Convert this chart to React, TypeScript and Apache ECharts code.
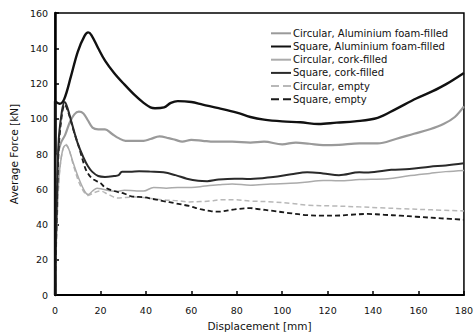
import React, { useEffect, useRef } from "react";
import * as echarts from "echarts";

// Displacement [mm] vs average crushing force [kN] for each tube configuration
const circularFoam: [number, number][] = [
  [0, 0], [1, 78], [2.5, 86], [4.5, 91], [6.5, 98], [8.5, 102.5], [10.5, 104], [12.5, 103],
  [14.5, 99], [16.5, 95], [19, 94], [22, 94], [25, 91.5], [28, 89], [31, 87.5], [35, 87.5],
  [39, 87.5], [42, 88.5], [46, 90], [50, 89], [53, 88], [56, 87], [60, 88], [65, 87.5],
  [70, 87], [78, 87], [86, 86.5], [92, 87], [100, 85.5], [106, 86.5], [112, 85.8], [118, 85],
  [125, 85.2], [134, 86], [142, 86], [150, 88.5], [158, 91.5], [165, 94], [171, 97],
  [176, 101], [180, 107],
];

const squareFoam: [number, number][] = [
  [0, 0], [0, 110], [2, 108.5], [4, 111], [7, 124], [10, 138], [13, 147], [14.6, 149],
  [16, 147.5], [19, 140], [22, 133], [26, 126], [30.5, 119.5], [35, 113.5], [39, 109],
  [42, 106.5], [44, 106], [48, 106.5], [51, 109], [54, 110], [60, 109.5], [65, 108],
  [72, 106], [80, 103.5], [86, 101], [92, 99.5], [100, 98.5], [108, 98], [116, 97],
  [124, 97.8], [132, 98.5], [142, 100.5], [150, 105.5], [159, 111.5], [166, 115.5],
  [172, 119.5], [180, 126],
];

const circularCork: [number, number][] = [
  [0, 0], [1.5, 62], [3, 80], [4.7, 85], [6, 83], [8, 75], [10.5, 66], [13, 59], [14.6, 57],
  [16.5, 59], [18.5, 60.6], [21, 60], [25, 59], [27.5, 58.8], [30.5, 59.5], [36, 59],
  [39, 59], [43.4, 61], [49, 60.6], [54, 61], [60, 61], [66, 61.8], [72, 62.5], [78, 63],
  [86, 62.3], [95, 63], [103.5, 63.4], [110, 64], [118, 65], [125, 64.8], [134, 65.5],
  [146.5, 66], [155, 67.5], [165, 69], [172, 70], [180, 70.7],
];

const squareCork: [number, number][] = [
  [0, 0], [1.5, 85], [3, 104], [4.3, 109.5], [5.5, 106], [7.7, 96], [10, 86], [12.5, 78],
  [14.5, 73], [16.3, 70], [19, 67.5], [22, 67], [26, 67.5], [28, 68], [29.5, 70], [33, 70],
  [37, 70.2], [42, 70], [47.7, 69.6], [53, 68], [58, 66], [63, 64.8], [67, 64.6],
  [72, 65.5], [79, 66], [86, 65.8], [96, 67], [104, 68.5], [111, 69.6], [118, 69],
  [125, 68], [134, 69.6], [138, 69.5], [148, 71], [156, 71.5], [165, 72.8], [172, 73.5],
  [180, 74.7],
];

const circularEmpty: [number, number][] = [
  [0, 0], [1.5, 60], [3, 80], [4.7, 85.5], [6, 83], [8, 74], [10.5, 64], [13, 58],
  [14.6, 56.5], [17, 58], [20, 59], [23.5, 57], [27.5, 55], [31, 55.3], [36, 55.6],
  [42, 54.8], [47.7, 54], [54, 53.5], [59, 52.8], [64, 53], [68, 53.3], [73.5, 54],
  [79, 54], [86, 53.3], [96, 52.8], [104, 52], [111, 51], [123, 50.5], [134, 50],
  [143, 49.5], [152, 49], [166, 48.3], [180, 47.7],
];

const squareEmpty: [number, number][] = [
  [0, 0], [1.5, 80], [3, 102], [4.3, 108], [6, 103], [8, 94], [10.5, 84], [13.3, 72],
  [15, 68], [17, 65.5], [20, 63.5], [22, 61], [26, 59], [30.5, 57.5], [33.5, 56],
  [39, 55.5], [43, 54.5], [47.7, 53.3], [53, 52], [59, 50.5], [64, 48.7], [69, 47.5],
  [72, 47.3], [79, 48.6], [86, 49.3], [89, 48.8], [96, 47.7], [103, 46.5], [111, 45.3],
  [118, 45], [123, 45], [130, 45.5], [137.5, 46], [145, 45.5], [152, 45], [159, 44.4],
  [170, 43.5], [180, 42.7],
];

const seriesNames = [
  "Circular, Aluminium foam-filled",
  "Square, Aluminium foam-filled",
  "Circular, cork-filled",
  "Square, cork-filled",
  "Circular, empty",
  "Square, empty",
];

const FONT = "'DejaVu Sans', sans-serif";

// legend keys: a plain bar for solid lines, two bars for dashed ones
const SOLID_KEY = "path://M0,0H20V2H0Z";
const DASHED_KEY = "path://M0,0H8V2H0Z M12,0H20V2H12Z";

type Style = { color: string; width: number; dashed: boolean; z: number };
const styles: Style[] = [
  { color: "#9a9a9a", width: 2.2, dashed: false, z: 3 },
  { color: "#111111", width: 2.4, dashed: false, z: 6 },
  { color: "#ababab", width: 1.5, dashed: false, z: 2 },
  { color: "#2a2a2a", width: 2, dashed: false, z: 5 },
  { color: "#b8b8b8", width: 1.5, dashed: true, z: 1 },
  { color: "#1a1a1a", width: 1.8, dashed: true, z: 4 },
];
const seriesData = [circularFoam, squareFoam, circularCork, squareCork, circularEmpty, squareEmpty];

export default function App() {
  const ref = useRef<HTMLDivElement>(null);

  useEffect(() => {
    if (!ref.current) return;
    const chart = echarts.init(ref.current, undefined, { renderer: "svg" });

    chart.setOption({
      animation: false,
      backgroundColor: "#fff",
      grid: {
        left: 49,
        right: 8,
        top: 13,
        bottom: 38,
        show: true,
        borderColor: "#000",
        borderWidth: 1.5,
      },
      legend: {
        orient: "vertical",
        left: 271,
        top: 28,
        itemWidth: 20,
        itemHeight: 2,
        itemGap: 2.6,
        padding: 0,
        textStyle: { fontFamily: FONT, fontSize: 10, color: "#111", lineHeight: 10.6, padding: [0, 0, 0, -3] },
        data: seriesNames.map((name, i) => ({
          name,
          icon: styles[i].dashed ? DASHED_KEY : SOLID_KEY,
          itemStyle: { color: styles[i].color },
        })),
      },
      xAxis: {
        type: "value",
        min: 0,
        max: 180,
        interval: 20,
        name: "Displacement [mm]",
        nameLocation: "middle",
        nameGap: 25,
        nameTextStyle: { fontFamily: FONT, fontSize: 10.5, color: "#111" },
        axisLine: { show: true, lineStyle: { color: "#000", width: 2 } },
        axisTick: { show: true, inside: true, length: 4, lineStyle: { color: "#000", width: 1.5 } },
        axisLabel: { fontFamily: FONT, fontSize: 9.5, color: "#111", margin: 10 },
        splitLine: { show: false },
      },
      yAxis: {
        type: "value",
        min: 0,
        max: 160,
        interval: 20,
        name: "Average Force [kN]",
        nameLocation: "middle",
        nameGap: 36,
        nameTextStyle: { fontFamily: FONT, fontSize: 10.5, color: "#111" },
        axisLine: { show: true, lineStyle: { color: "#000", width: 2.5 } },
        axisTick: { show: true, inside: true, length: 4, lineStyle: { color: "#000", width: 1.5 } },
        axisLabel: { fontFamily: FONT, fontSize: 9.5, color: "#111", margin: 7 },
        splitLine: { show: false },
      },
      series: seriesNames.map((name, i) => ({
        name,
        type: "line",
        data: seriesData[i],
        smooth: 0.35,
        symbol: "none",
        showSymbol: false,
        z: styles[i].z,
        lineStyle: {
          color: styles[i].color,
          width: styles[i].width,
          type: styles[i].dashed ? [5, 3] : "solid",
        },
        itemStyle: { color: styles[i].color },
      })),
    });

    return () => chart.dispose();
  }, []);

  return (
    <div
      ref={ref}
      style={{ position: "absolute", left: 0, top: 0, width: 476, height: 336 }}
    />
  );
}
